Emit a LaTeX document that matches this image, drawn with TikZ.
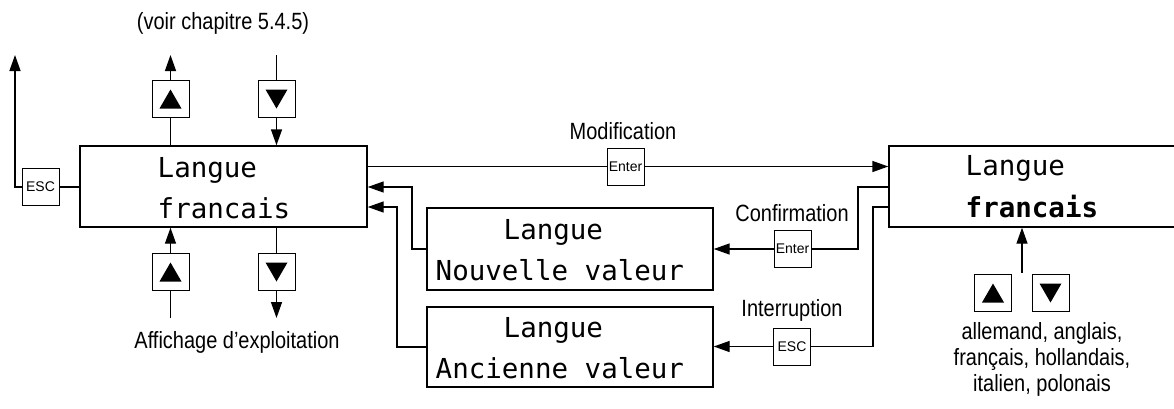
\documentclass[tikz,border=0pt]{standalone}
\usepackage{fontspec}
\setmainfont{Liberation Sans}
\newfontfamily\lblfont[FakeStretch=0.85]{Liberation Sans}
\newfontfamily\dispfont{DejaVu Sans Mono}
\usetikzlibrary{arrows.meta}
\newcommand\keyup[1]{\fill ([shift={(-11,10)}]#1.center) -- ([shift={(11,10)}]#1.center) -- ([shift={(0,-9)}]#1.center) -- cycle;}
\newcommand\keydown[1]{\fill ([shift={(-11,-9)}]#1.center) -- ([shift={(11,-9)}]#1.center) -- ([shift={(0,10)}]#1.center) -- cycle;}
\begin{document}
\begin{tikzpicture}[x=1pt,y=-1pt,
  line width=1.4pt,
  dispbox/.style={draw, inner sep=0pt},
  keybox/.style={draw, line width=1pt, minimum width=37pt, minimum height=37pt, inner sep=0pt, font=\fontsize{14}{16}\selectfont},
  arrowkey/.style={draw, line width=1pt, minimum width=37pt, minimum height=37pt, inner sep=0pt},
  disptext/.style={anchor=base west, inner sep=0pt, font=\dispfont\fontsize{27.5}{30}\selectfont},
  lbl/.style={inner sep=0pt, font=\lblfont\fontsize{23.5}{26}\selectfont, align=center},
  arr/.style={-{Triangle[length=16pt,width=11pt]}}]
\useasboundingbox (0,0) rectangle (1174,408);

% display boxes
\node[dispbox, minimum width=287pt, minimum height=81pt] (main) at (223.5,186.5) {};
\node[dispbox, minimum width=301pt, minimum height=81pt] (right) at (1039.5,186.5) {};
\node[dispbox, minimum width=286pt, minimum height=82pt] (nouv) at (570,249) {};
\node[dispbox, minimum width=286pt, minimum height=80pt] (anc) at (570,347) {};

% display texts
\node[disptext] (mainA) at (157,177) {Langue};
\node[disptext] (mainB) at (157,218) {francais};
\node[disptext] (rightA) at (965,175) {Langue};
\node[disptext] (rightB) at (965,217) {\bfseries francais};
\node[disptext] (nouvA) at (503,239) {Langue};
\node[disptext] (nouvB) at (435,280) {Nouvelle valeur};
\node[disptext] (ancA) at (503,337) {Langue};
\node[disptext] (ancB) at (435,378) {Ancienne valeur};

% keys
\node[keybox] (escL) at (40.5,187) {ESC};
\node[keybox] (enterM) at (625.5,166.5) {Enter};
\node[keybox] (enterC) at (792.5,249) {Enter};
\node[keybox] (escI) at (792,346.5) {ESC};
\node[arrowkey] (upT) at (170.5,98.5) {};
\node[arrowkey] (dnT) at (276.5,98.5) {};
\node[arrowkey] (upB) at (170.5,271.5) {};
\node[arrowkey] (dnB) at (276.5,271.5) {};
\node[arrowkey] (upR) at (993,292.5) {};
\node[arrowkey] (dnR) at (1050.5,292.5) {};
\keyup{upT} \keydown{dnT} \keyup{upB} \keydown{dnB} \keyup{upR} \keydown{dnR}

% labels
\node[lbl] (voir) at (223,23) {(voir chapitre 5.4.5)};
\node[lbl] (affich) at (237,342) {Affichage d’exploitation};
\node[lbl] (modif) at (623,131) {Modification};
\node[lbl] (confirm) at (792,213) {Confirmation};
\node[lbl] (interr) at (792,310) {Interruption};
\node[lbl] (langs) at (1042,359) {allemand, anglais,\\français, hollandais,\\italien, polonais};

% free ends
\coordinate (leftTop) at (15,55);
\coordinate (upTend) at (170.5,55);
\coordinate (dnTstart) at (276.5,55);
\coordinate (upBstart) at (170.5,318);
\coordinate (dnBend) at (276.5,318);
\coordinate (c1) at (858,187);
\coordinate (c2) at (873,207);
\coordinate (r1) at (412,187);
\coordinate (r2) at (397,207);
\coordinate (rstart) at (1022,273);

% connectors
\draw (escL.east) -- (escL.east -| main.west);
\draw[arr] (escL.west) -| (leftTop);
\draw (upT.south |- main.north) -- (upT.south);
\draw[arr] (upT.north) -- (upTend);
\draw (dnTstart) -- (dnT.north);
\draw[arr] (dnT.south) -- (dnT.south |- main.north);
\draw (upBstart) -- (upB.south);
\draw[arr] (upB.north) -- (upB.north |- main.south);
\draw (dnB.north |- main.south) -- (dnB.north);
\draw[arr] (dnB.south) -- (dnBend);
\draw (enterM.west -| main.east) -- (enterM.west);
\draw[arr] (enterM.east) -- (enterM.east -| right.west);
\draw (c1 -| right.west) -- (c1) |- (enterC.east);
\draw[arr] (enterC.west) -- (enterC.west -| nouv.east);
\draw (c2 -| right.west) -- (c2) |- (escI.east);
\draw[arr] (escI.west) -- (escI.west -| anc.east);
\draw[arr] (nouv.west) -| (r1) -- (r1 -| main.east);
\draw[arr] (anc.west) -| (r2) -- (r2 -| main.east);
\draw[arr] (rstart) -- (rstart |- right.south);
\end{tikzpicture}
\end{document}
